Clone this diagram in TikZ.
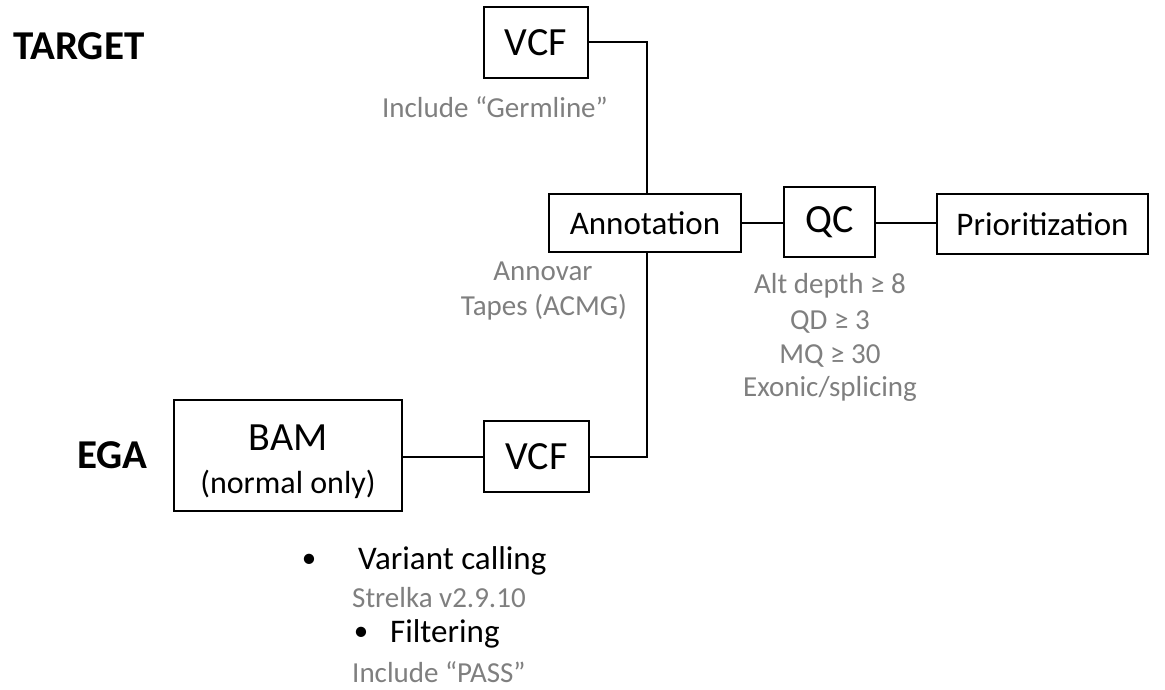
\documentclass[tikz,border=0pt]{standalone}
\usepackage{fontspec}
\setmainfont{Carlito}
\definecolor{txtgray}{RGB}{127,127,127}
\tikzset{
  box/.style={draw=black, line width=2pt, fill=white, inner sep=0pt, align=center},
  conn/.style={draw=black, line width=2pt},
  lbl/.style={inner sep=0pt, text=black, font=\fontsize{33}{40}\selectfont},
  bul/.style={inner sep=0pt, text=black, font=\fontsize{29}{35}\selectfont},
  big/.style={inner sep=0pt, font=\fontsize{40}{48}\selectfont},
  note/.style={inner sep=0pt, text=txtgray, font=\fontsize{29}{35}\selectfont},
  title/.style={inner sep=0pt, font=\bfseries\fontsize{41}{49}\selectfont},
}
\begin{document}
\begin{tikzpicture}[x=1pt,y=-1pt]
\useasboundingbox (0,0) rectangle (1165,690);
\coordinate (vline) at (647,0);

% titles
\node[title, anchor=base west] (target) at (13,60) {TARGET};
\node[title, anchor=base west] (ega) at (77,468) {EGA};

% boxes
\node[box, minimum width=104pt, minimum height=71pt, font=\fontsize{40}{48}\selectfont] (vcf1) at (536,42.5) {VCF};
\node[box, minimum width=192pt, minimum height=58pt, font=\fontsize{33}{40}\selectfont] (ann) at (645,223) {Annotation};
\node[box, minimum width=91pt, minimum height=70pt, font=\fontsize{40}{48}\selectfont] (qc) at (829.5,222) {QC};
\node[box, minimum width=211pt, minimum height=60pt, font=\fontsize{33}{40}\selectfont] (prio) at (1042.5,224) {Prioritization};
\node[box, minimum width=228pt, minimum height=111pt] (bam) at (288,455.5) {};
\node[big, anchor=base] (bamt) at (288,450) {BAM};
\node[lbl, font=\fontsize{32}{40}\selectfont, anchor=base] (bamn) at (288,493) {(normal only)};
\node[box, minimum width=105pt, minimum height=71pt, font=\fontsize{40}{48}\selectfont] (vcf2) at (536.5,456.5) {VCF};

% connectors
\draw[conn] (vcf1.east) -| (vline |- ann.north);
\draw[conn] (ann.east) -- (ann.east -| qc.west);
\draw[conn] (qc.east |- ann.east) -- (ann.east -| prio.west);
\draw[conn] (bam.east |- vcf2.west) -- (vcf2.west);
\draw[conn] (vcf2.east) -| (vline |- ann.south);

% notes
\node[note, anchor=base] (germ) at (495,118) {Include “Germline”};
\node[note, anchor=base] (annovar) at (543,280) {Annovar};
\node[note, anchor=base] (tapes) at (544,315) {Tapes (ACMG)};
\node[note, anchor=base] (q1) at (830,293) {Alt depth ≥ 8};
\node[note, anchor=base] (q2) at (830,329) {QD ≥ 3};
\node[note, anchor=base] (q3) at (830,363) {MQ ≥ 30};
\node[note, anchor=base] (q4) at (830,396) {Exonic/splicing};

% bullets
\node[bul, anchor=base] (b1) at (309,567) {•};
\node[lbl, anchor=base west] (vc) at (358,569) {Variant calling};
\node[note, anchor=base west] (strelka) at (352,607) {Strelka v2.9.10};
\node[bul, anchor=base] (b2) at (361,640) {•};
\node[lbl, anchor=base west] (filt) at (390,642) {Filtering};
\node[note, anchor=base west] (pass) at (352,682) {Include “PASS”};
\end{tikzpicture}
\end{document}
